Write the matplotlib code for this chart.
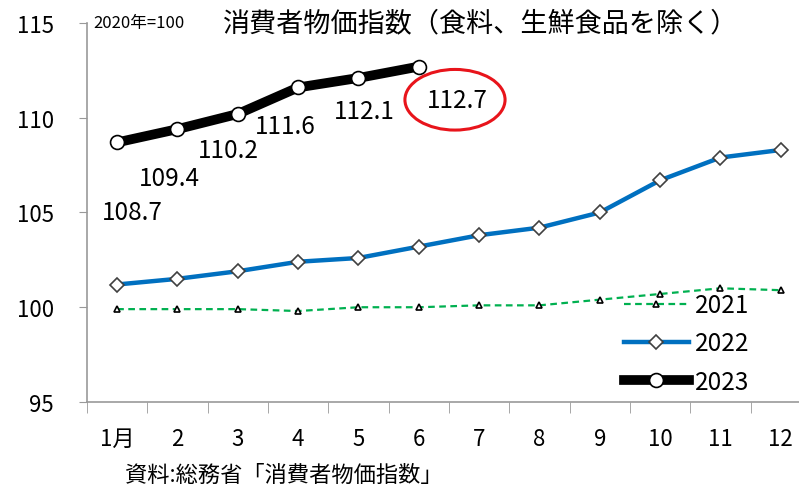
import matplotlib
matplotlib.use("Agg")
import matplotlib.pyplot as plt
from matplotlib.patches import Ellipse

plt.rcParams['font.family'] = ['Noto Sans CJK JP', 'DejaVu Sans']

months = ['1月', '2', '3', '4', '5', '6', '7', '8', '9', '10', '11', '12']
cpi_2021 = [99.9, 99.9, 99.9, 99.8, 100.0, 100.0, 100.1, 100.1, 100.4, 100.7, 101.0, 100.9]
cpi_2022 = [101.2, 101.5, 101.9, 102.4, 102.6, 103.2, 103.8, 104.2, 105.0, 106.7, 107.9, 108.3]
cpi_2023 = [108.7, 109.4, 110.2, 111.6, 112.1, 112.7]
yticks = [95, 100, 105, 110, 115]

# label offsets in points (dx, dy) for the 2023 values
label_off = [(11, -50), (-6, -35), (-7, -26), (-9, -28), (4, -24), (28, -24)]

fig = plt.figure(figsize=(7.99, 4.89), dpi=100)
ax = fig.add_axes([0.1089, 0.1759, 0.906, 0.775])

x = list(range(len(months)))
ax.plot(x, cpi_2021, color='#00B050', lw=1.6, ls=(0, (3, 2)), marker='^',
        ms=5, mfc='white', mec='black', mew=1.2, label='2021', zorder=2)
ax.plot(x, cpi_2022, color='#0070C0', lw=3.2, marker='D', ms=7.5,
        mfc='white', mec='#404040', mew=1.2, label='2022', zorder=3)
ax.plot(x[:len(cpi_2023)], cpi_2023, color='black', lw=7, marker='o', ms=10,
        mfc='white', mec='black', mew=1.2, label='2023', zorder=4)

for i, v in enumerate(cpi_2023):
    ax.annotate(f'{v:.1f}', (i, v), xytext=label_off[i], textcoords='offset points',
                ha='center', va='center', fontsize=17.5)

last = len(cpi_2023) - 1
ax.add_patch(Ellipse((last + 0.6, cpi_2023[last] - 1.75), 1.66, 3.2,
                     fill=False, ec='#E8141B', lw=2.2, zorder=5))

ax.set_xlim(-0.5, 11.5)
ax.set_ylim(95, 115)
ax.set_yticks(yticks)
ax.set_xticks(x)
ax.set_xticklabels(months)
ax.set_xticks([i - 0.5 for i in range(13)], minor=True)
ax.tick_params(axis='x', which='major', length=0, labelsize=16, pad=18)
ax.tick_params(axis='x', which='minor', length=8, color='#999999', direction='out')
ax.tick_params(axis='y', length=6, color='#999999', labelsize=16, pad=18)
for s in ['top', 'right']:
    ax.spines[s].set_visible(False)
for s in ['left', 'bottom']:
    ax.spines[s].set_color('#999999')
    ax.spines[s].set_linewidth(1.2)

ax.legend(loc='upper left', bbox_to_anchor=(0.753, 0.445), bbox_transform=fig.transFigure,
          frameon=False, fontsize=17.5, handlelength=2.7, handletextpad=0.25,
          labelspacing=0.5)

fig.text(0.117, 0.952, '2020年=100', fontsize=12, va='center')
fig.text(0.279, 0.952, '消費者物価指数（食料、生鮮食品を除く）', fontsize=19.5, va='center')
fig.text(0.156, 0.028, '資料:総務省「消費者物価指数」', fontsize=16, va='center')

fig.savefig('out.png', dpi=100)
